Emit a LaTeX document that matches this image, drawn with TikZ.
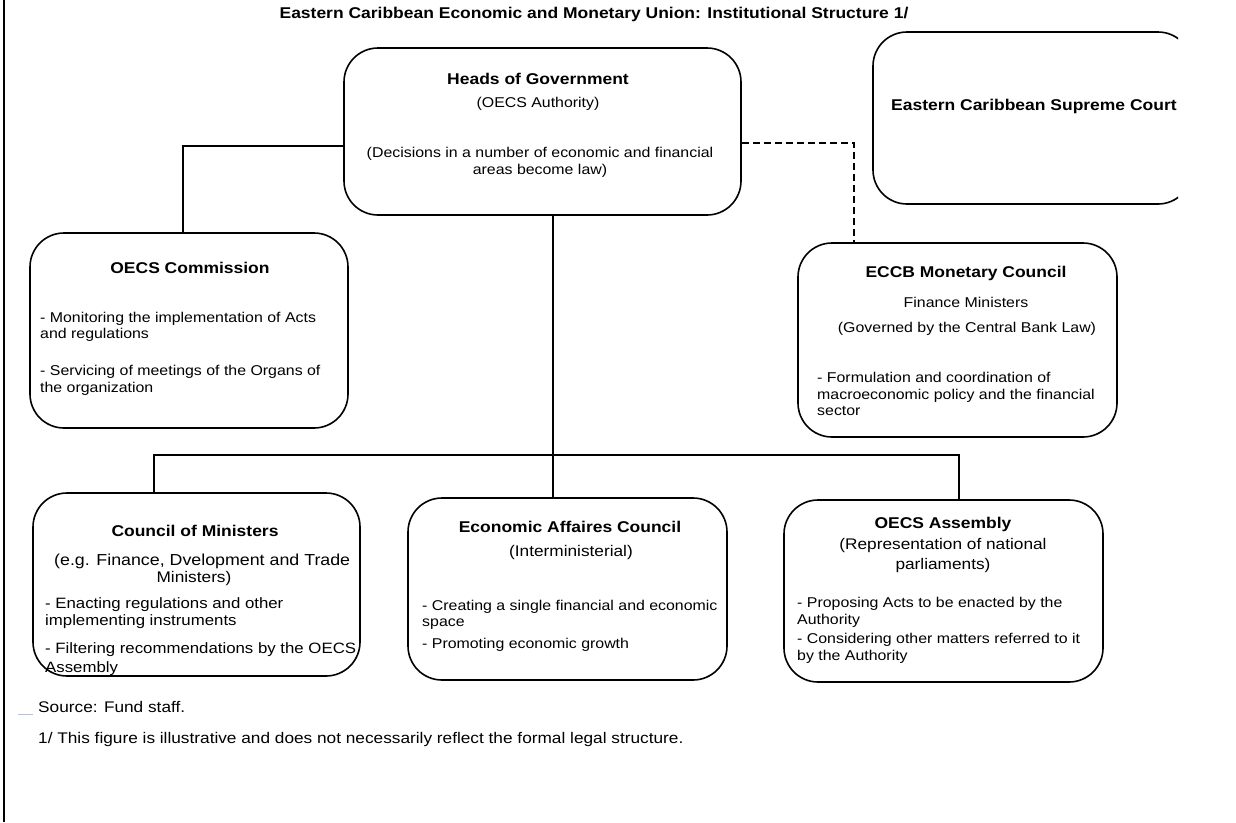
\documentclass[tikz,border=0pt]{standalone}
\usepackage{fontspec}
\setmainfont{Liberation Sans}[FakeStretch=1.12]
\begin{document}
\begin{tikzpicture}[x=1pt,y=-1pt,
  box/.style={draw, line width=1.6pt, rounded corners=34pt, inner sep=0pt},
  ttl/.style={font=\fontsize{15.6}{18}\selectfont\bfseries, inner sep=0pt, anchor=base},
  txt/.style={font=\fontsize{14.2}{17}\selectfont, inner sep=0pt, anchor=base},
  sub/.style={font=\fontsize{15.4}{18}\selectfont, inner sep=0pt, anchor=base},
  lft/.style={txt, anchor=base west},
  lftb/.style={font=\fontsize{15}{18}\selectfont, inner sep=0pt, anchor=base west},
  foot/.style={font=\fontsize{15.4}{18}\selectfont, inner sep=0pt, anchor=base west},
  link/.style={line width=1.5pt},
  dlink/.style={line width=1.5pt, dash pattern=on 7pt off 4pt}]
\useasboundingbox (0,0) rectangle (1236,822);
% frame line
\draw[line width=1.5pt] (4,0) -- (4,822);
\draw[color={rgb,255:red,175;green,195;blue,225}, line width=0.8pt] (18,714) -- (33,714);

% boxes
\node[box, minimum width=397pt, minimum height=167pt] (heads) at (542.5,131.5) {};
\begin{scope}
  \clip (0,0) rectangle (1178,822);
  \node[box, minimum width=319pt, minimum height=172pt] (court) at (1032.5,118) {};
\end{scope}
\node[box, minimum width=318pt, minimum height=195pt] (comm) at (189,330.5) {};
\node[box, minimum width=319pt, minimum height=194pt] (eccb) at (957.5,340) {};
\node[box, minimum width=327pt, minimum height=183pt] (council) at (196.5,584.5) {};
\node[box, minimum width=319pt, minimum height=182pt] (econ) at (567.5,589) {};
\node[box, minimum width=319pt, minimum height=182pt] (assembly) at (943.5,591) {};

% connectors
\draw[link] ([yshift=-14.5pt]heads.west) -| ([xshift=-6pt]comm.north);
\draw[dlink] ([yshift=-11.5pt]heads.east) -| ([xshift=-103.5pt]eccb.north);
\coordinate (busL) at (154,455);
\coordinate (busM) at (553,455);
\coordinate (busR) at (959,455);
\draw[link] (busM |- heads.south) -- (busM |- econ.north);
\draw[link] (busL |- council.north) -- (busL) -- (busR) -- (busR |- assembly.north);

% title
\node[ttl] (title) at (594,18) {Eastern Caribbean Economic and Monetary Union: Institutional Structure 1/};

% heads
\node[ttl] (h1) at (538,84) {Heads of Government};
\node[txt] (h2) at (538,107) {(OECS Authority)};
\node[txt] (h3) at (540,157) {(Decisions in a number of economic and financial};
\node[txt] (h4) at (540,174) {areas become law)};

% court
\node[ttl, anchor=base west] (c1) at (891,110) {Eastern Caribbean Supreme Court};

% commission
\node[ttl] (m1) at (190,273) {OECS Commission};
\node[lft] (m2) at (40,322) {- Monitoring the implementation of Acts};
\node[lft] (m3) at (40,338) {and regulations};
\node[lft] (m4) at (40,375) {- Servicing of meetings of the Organs of};
\node[lft] (m5) at (40,392) {the organization};

% eccb
\node[ttl] (e1) at (966,277) {ECCB Monetary Council};
\node[txt] (e2) at (966,307) {Finance Ministers};
\node[txt] (e3) at (967,332) {(Governed by the Central Bank Law)};
\node[lft] (e4) at (817,382) {- Formulation and coordination of};
\node[lft] (e5) at (817,399) {macroeconomic policy and the financial};
\node[lft] (e6) at (817,415) {sector};

% council
\node[ttl] (k1) at (195,536) {Council of Ministers};
\node[font=\fontsize{15.9}{18}\selectfont, inner sep=0pt, anchor=base west] (k2) at (54,565) {(e.g. Finance, Dvelopment and Trade};
\node[sub] (k3) at (194,582) {Ministers)};
\node[lftb] (k4) at (45,608) {- Enacting regulations and other};
\node[lftb] (k5) at (45,625) {implementing instruments};
\node[lftb] (k6) at (45,653) {- Filtering recommendations by the OECS};
\node[lftb] (k7) at (45,672) {Assembly};

% econ
\node[ttl] (a1) at (570,532) {Economic Affaires Council};
\node[sub] (a2) at (571,556) {(Interministerial)};
\node[lft] (a3) at (422,610) {- Creating a single financial and economic};
\node[lft] (a4) at (422,626) {space};
\node[lft] (a5) at (422,648) {- Promoting economic growth};

% assembly
\node[ttl] (s1) at (943,528) {OECS Assembly};
\node[sub] (s2) at (943,549) {(Representation of national};
\node[sub] (s3) at (943,569) {parliaments)};
\node[lft] (s4) at (797,607) {- Proposing Acts to be enacted by the};
\node[lft] (s5) at (797,624) {Authority};
\node[lft] (s6) at (797,643) {- Considering other matters referred to it};
\node[lft] (s7) at (797,660) {by the Authority};

% footer
\node[foot] (src) at (38,712) {Source: Fund staff.};
\node[foot] (fn) at (38,743) {1/ This figure is illustrative and does not necessarily reflect the formal legal structure.};
\end{tikzpicture}
\end{document}
